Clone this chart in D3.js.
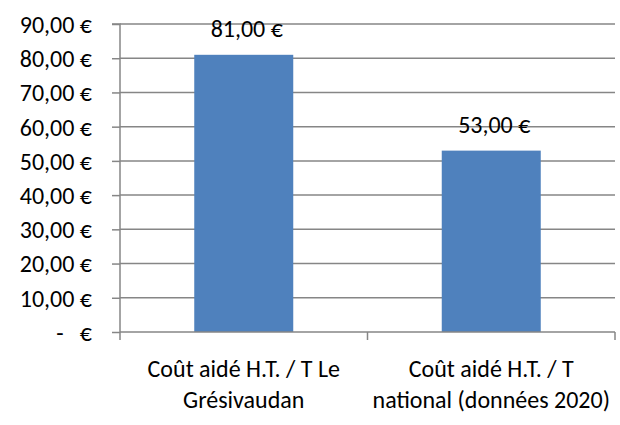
<!DOCTYPE html>
<html><head><meta charset="utf-8">
<script src="https://cdn.jsdelivr.net/npm/d3@7"></script>
<style>
html,body{margin:0;padding:0;background:#fff;}
svg text{font-family:Carlito, Calibri, Lato, sans-serif;fill:#000;}
</style></head>
<body>
<svg id="chart" width="620" height="425"></svg>
<script>
const categories = [["Coût aidé H.T. / T Le", "Grésivaudan"], ["Coût aidé H.T. / T", "national (données 2020)"]];
const values = [81, 53];
const yTicks = [0, 10, 20, 30, 40, 50, 60, 70, 80, 90];
const fmt = v => v === 0 ? "-   €" : d3.format(".2f")(v).replace(".", ",") + " €";

const svg = d3.select("#chart");
const m = {left: 120, right: 615, top: 24, bottom: 332};
const x = d3.scaleBand().domain(d3.range(categories.length)).range([m.left, m.right]).paddingInner(0.6).paddingOuter(0.3);
const y = d3.scaleLinear().domain([0, 90]).range([m.bottom, m.top]);
const grey = "#868686";
const fs = 24;

// gridlines
svg.append("g").selectAll("line").data(yTicks.filter(d => d > 0)).join("line")
  .attr("x1", m.left).attr("x2", m.right).attr("y1", d => y(d)).attr("y2", d => y(d))
  .attr("stroke", grey).attr("stroke-width", 1.5);

// bars
svg.append("g").selectAll("rect").data(values).join("rect")
  .attr("x", (d, i) => x(i)).attr("width", x.bandwidth())
  .attr("y", d => y(d)).attr("height", d => y(0) - y(d))
  .attr("fill", "#4F81BD");

// y axis
const yAxis = d3.axisLeft(y).tickValues(yTicks).tickSize(8).tickPadding(20).tickFormat(fmt);
const ga = svg.append("g").attr("transform", `translate(${m.left},0)`).call(yAxis);
ga.select(".domain").attr("stroke", grey).attr("stroke-width", 1.5).attr("d", `M-8,${m.top}H0V${m.bottom}`);
ga.selectAll(".tick line").attr("stroke", grey).attr("stroke-width", 1.5);
ga.selectAll(".tick text").attr("font-size", fs).attr("font-family", "Carlito, Calibri, Lato, sans-serif").attr("dy", "0.35em").attr("x", -28)
  .style("white-space", "pre").attr("xml:space", "preserve");

// x axis line and ticks
const bx = [m.left, ...d3.range(1, categories.length).map(i => (x(i - 1) + x.bandwidth() + x(i)) / 2), m.right];
svg.append("line").attr("x1", m.left).attr("x2", m.right).attr("y1", m.bottom).attr("y2", m.bottom).attr("stroke", grey).attr("stroke-width", 1.5);
svg.append("g").selectAll("line").data(bx).join("line")
  .attr("x1", d => d).attr("x2", d => d).attr("y1", m.bottom).attr("y2", m.bottom + 8)
  .attr("stroke", grey).attr("stroke-width", 1.5);

// category labels
const cl = svg.append("g").selectAll("text").data(categories).join("text")
  .attr("text-anchor", "middle").attr("font-size", fs)
  .attr("transform", (d, i) => `translate(${x(i) + x.bandwidth() / 2},377)`);
cl.selectAll("tspan").data(d => d).join("tspan")
  .attr("x", 0).attr("y", (d, j) => j * 31).text(d => d);

// value labels
svg.append("g").selectAll("text").data(values).join("text")
  .attr("text-anchor", "middle").attr("font-size", fs)
  .attr("x", (d, i) => x(i) + x.bandwidth() / 2 + 3).attr("y", d => y(d) - 18)
  .text(d => fmt(d));
</script>
</body></html>
